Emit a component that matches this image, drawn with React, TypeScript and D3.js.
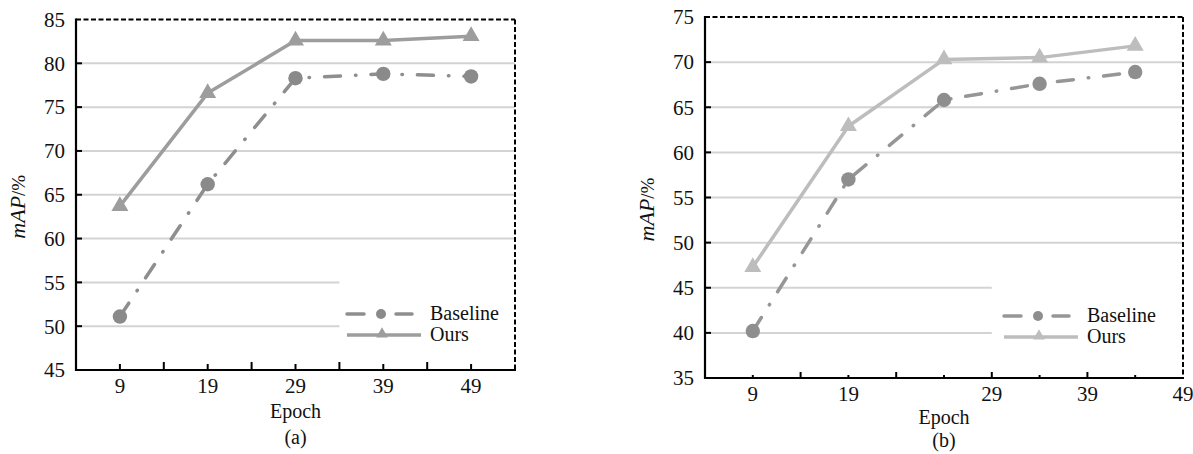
import React from "react";
import * as d3 from "d3";

// chart data
const epochs = [9, 19, 29, 39, 49];
const baselineA = [51.1, 66.2, 78.3, 78.8, 78.5];
const oursA = [63.7, 76.6, 82.6, 82.6, 83.1];
const baselineB = [40.2, 57.0, 65.8, 67.6, 68.9];
const oursB = [47.3, 62.9, 70.3, 70.5, 71.8];

const yTicksA = [45, 50, 55, 60, 65, 70, 75, 80, 85];
const yTicksB = [35, 40, 45, 50, 55, 60, 65, 70, 75];
const xTickLabels = ["9", "19", "29", "39", "49"];
const xLabelAtA = [9, 19, 29, 39, 49];
const xLabelAtB = [9, 19, 34, 44, 54];
const xTickMarks = [9, 14, 19, 24, 29, 34, 39, 44, 49];
const seriesNames = ["Baseline", "Ours"];

const FONT = "'Liberation Serif', 'Times New Roman', serif";

function Panel({ box, yDomain, yTicks, shortGrid, baseline, ours, xLabelAt, colors, tickLen, legendX, legendY, labelY, caption }) {
  const [x0, y0, x1, y1] = box;
  const x = d3.scaleLinear().domain([4, 54]).range([x0, x1]);
  const y = d3.scaleLinear().domain(yDomain).range([y1, y0]);
  const line = d3
    .line<number>()
    .x((_, i) => x(epochs[i]))
    .y((d) => y(d));
  const tri = d3.symbol().type(d3.symbolTriangle).size(125)();
  const triSmall = d3.symbol().type(d3.symbolTriangle).size(60)();
  const gridVals = yTicks.slice(1, -1);
  const midX = (x(9) + x(49)) / 2;

  return (
    <g fontFamily={FONT} fill="#111">
      {/* grid */}
      {gridVals.map((v) => (
        <line
          key={"g" + v}
          x1={x0}
          x2={shortGrid.includes(v) ? x(34) : x1}
          y1={y(v)}
          y2={y(v)}
          stroke="#d3d3d3"
          strokeWidth={2}
        />
      ))}

      {/* frame */}
      <line x1={x0} x2={x1} y1={y0} y2={y0} stroke="#000" strokeWidth={2} strokeDasharray="5 2.5" />
      <line x1={x1} x2={x1} y1={y0} y2={y1} stroke="#000" strokeWidth={2} strokeDasharray="5 2.5" />
      <line x1={x0} x2={x0} y1={y0 - 1} y2={y1 + 1} stroke="#000" strokeWidth={2.2} />
      <line x1={x0 - 1} x2={x1 + 1} y1={y1} y2={y1} stroke="#000" strokeWidth={2.2} />

      {/* y ticks */}
      {yTicks.map((v) => (
        <g key={"y" + v}>
          {v !== yTicks[0] && v !== yTicks[yTicks.length - 1] && (
            <line x1={x0} x2={x0 + 6} y1={y(v)} y2={y(v)} stroke="#000" strokeWidth={2} />
          )}
          <text x={x0 - 11} y={y(v)} dy="0.35em" textAnchor="end" fontSize={21}>
            {v}
          </text>
        </g>
      ))}

      {/* x ticks */}
      {xTickMarks.map((v) => (
        <line
          key={"xt" + v}
          x1={x(v)}
          x2={x(v)}
          y1={y1}
          y2={y1 - (epochs.includes(v) ? tickLen[0] : tickLen[1])}
          stroke="#000"
          strokeWidth={2}
        />
      ))}
      {xTickLabels.map((t, i) => (
        <text key={"xl" + t} x={x(xLabelAt[i])} y={y1 + 23} textAnchor="middle" fontSize={21}>
          {t}
        </text>
      ))}

      {/* axis titles */}
      <text x={midX} y={labelY[0]} textAnchor="middle" fontSize={20}>
        Epoch
      </text>
      <text x={midX} y={labelY[1]} textAnchor="middle" fontSize={20}>
        {caption}
      </text>
      <text
        transform={`translate(${x0 - 51},${(y0 + y1) / 2 + 12}) rotate(-90)`}
        textAnchor="middle"
        fontSize={22}
      >
        <tspan fontStyle="italic">mAP</tspan>
        <tspan fontSize={19}>/%</tspan>
      </text>

      {/* series */}
      <path d={line(baseline) ?? ""} fill="none" stroke={colors.base} strokeWidth={3.5} strokeLinecap="round" strokeDasharray="16 15 0.5 15" />
      <path d={line(ours) ?? ""} fill="none" stroke={colors.ours} strokeWidth={3.5} strokeLinejoin="round" />
      {baseline.map((v, i) => (
        <circle key={"b" + i} cx={x(epochs[i])} cy={y(v)} r={7.2} fill={colors.baseMark} />
      ))}
      {ours.map((v, i) => (
        <path key={"o" + i} d={tri ?? ""} transform={`translate(${x(epochs[i])},${y(v)})`} fill={colors.ours} />
      ))}

      {/* legend */}
      <g>
        <line x1={legendX} x2={legendX + 17} y1={legendY[0]} y2={legendY[0]} stroke={colors.base} strokeWidth={3.5} strokeLinecap="round" />
        <circle cx={legendX + 34} cy={legendY[0]} r={5} fill={colors.baseMark} />
        <line x1={legendX + 49} x2={legendX + 65} y1={legendY[0]} y2={legendY[0]} stroke={colors.base} strokeWidth={3.5} strokeLinecap="round" />
        <text x={legendX + 83} y={legendY[0]} dy="0.32em" fontSize={20}>
          {seriesNames[0]}
        </text>
        <line x1={legendX} x2={legendX + 74} y1={legendY[1]} y2={legendY[1]} stroke={colors.ours} strokeWidth={3.5} />
        <path d={triSmall ?? ""} transform={`translate(${legendX + 35},${legendY[1] - 1})`} fill={colors.ours} />
        <text x={legendX + 83} y={legendY[1]} dy="0.32em" fontSize={20}>
          {seriesNames[1]}
        </text>
      </g>
    </g>
  );
}

export default function App() {
  return (
    <svg width={1193} height={454} style={{ position: "absolute", left: 0, top: 0, background: "#fff" }}>
      <Panel
        box={[76, 19.5, 515, 370]}
        yDomain={[45, 85]}
        yTicks={yTicksA}
        shortGrid={[50, 55]}
        baseline={baselineA}
        ours={oursA}
        xLabelAt={xLabelAtA}
        colors={{ base: "#8e8e8e", baseMark: "#8a8a8a", ours: "#9d9d9d" }}
        tickLen={[6, 8]}
        legendX={347}
        legendY={[314, 335]}
        labelY={[418, 444]}
        caption="(a)"
      />
      <Panel
        box={[705, 17, 1183, 378]}
        yDomain={[35, 75]}
        yTicks={yTicksB}
        shortGrid={[40, 45]}
        baseline={baselineB}
        ours={oursB}
        xLabelAt={xLabelAtB}
        colors={{ base: "#969696", baseMark: "#8e8e8e", ours: "#bdbdbd" }}
        tickLen={[3, 6]}
        legendX={1004}
        legendY={[316, 337]}
        labelY={[424, 447]}
        caption="(b)"
      />
    </svg>
  );
}
